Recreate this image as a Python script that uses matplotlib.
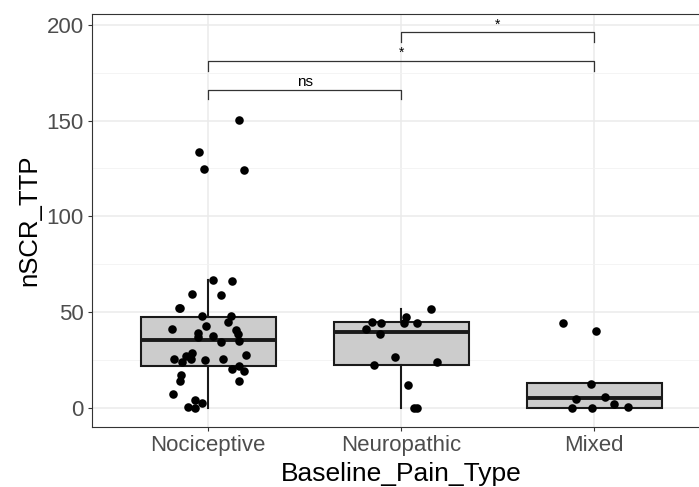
import numpy as np
import matplotlib
matplotlib.use("Agg")
import matplotlib.pyplot as plt

plt.rcParams['font.family'] = ['Liberation Sans', 'DejaVu Sans']

categories = ["Nociceptive", "Neuropathic", "Mixed"]

noci_vals = [150.4, 133.5, 124.7, 124.3, 67.0, 66.5, 59.7, 58.7, 51.9, 51.9,
             47.9, 47.8, 44.6, 42.5, 41.0, 40.5, 38.9, 38.4, 36.8, 37.3,
             34.9, 34.2, 28.5, 27.1, 25.7, 25.5, 24.2, 25.2, 25.5, 27.4,
             22.1, 20.3, 19.1, 17.4, 13.9, 13.9, 7.5, 4.0, 2.4, 0.7, 0.0]
noci_jit = [0.162, -0.045, -0.019, 0.184, 0.024, 0.122, -0.081, 0.069, -0.151, -0.143,
            -0.033, 0.119, 0.103, -0.010, -0.188, 0.145, -0.050, 0.155, -0.050, 0.026,
            0.159, 0.066, -0.083, -0.112, -0.091, -0.177, -0.136, -0.016, 0.079, 0.198,
            0.162, 0.122, 0.186, -0.141, -0.143, 0.159, -0.181, -0.069, -0.031, -0.105, -0.066]

neuro_vals = [51.8, 47.7, 44.3, 45.0, 44.5, 44.5, 41.0, 38.4, 26.4, 22.2, 24.2, 12.2, 0.0, 0.0]
neuro_jit = [0.157, 0.027, 0.017, -0.152, -0.102, 0.083, -0.181, -0.107, -0.033, -0.142,
             0.184, 0.038, 0.068, 0.080]

mixed_vals = [44.1, 40.1, 12.7, 4.9, 5.6, 2.1, 0.0, 0.0, 0.3]
mixed_jit = [-0.162, 0.010, -0.017, -0.093, 0.055, 0.102, -0.117, -0.009, 0.176]

# box statistics as drawn
box_q1 = [22.1, 22.6, 0.0]
box_med = [35.6, 39.6, 5.4]
box_q3 = [47.6, 44.6, 13.2]
box_lo = [0.0, 0.0, 0.0]
box_hi = [67.0, 51.6, 13.2]

# significance brackets: (group a, group b, height, label)
brackets = [(1, 2, 166, "ns"), (1, 3, 181, "*"), (2, 3, 196, "*")]

yticks = [0, 50, 100, 150, 200]

fig = plt.figure(figsize=(6.99, 4.87), dpi=100)
ax = fig.add_axes([0.132, 0.1238, 0.8837, 0.8475])

stats = []
for i in range(3):
    stats.append(dict(med=box_med[i], q1=box_q1[i], q3=box_q3[i],
                      whislo=box_lo[i], whishi=box_hi[i], fliers=[]))
ax.bxp(stats, positions=[1, 2, 3], widths=0.7, patch_artist=True, showcaps=False,
       boxprops=dict(facecolor='#CCCCCC', edgecolor='#1A1A1A', lw=1.5),
       medianprops=dict(color='#1A1A1A', lw=2.8),
       whiskerprops=dict(color='#1A1A1A', lw=1.5))

groups = [(noci_vals, noci_jit), (neuro_vals, neuro_jit), (mixed_vals, mixed_jit)]
for i, (vals, jit) in enumerate(groups):
    xs = np.array(jit) + i + 1
    ax.scatter(xs, vals, s=38, color='black', zorder=3, lw=0)

for a, b, h, lab in brackets:
    ax.plot([a, a, b, b], [h - 5, h, h, h - 5], color='#333333', lw=0.9)
    ax.text((a + b) / 2, h + 0.5, lab, ha='center', va='bottom', fontsize=11 if lab == "ns" else 10)

ax.set_xlim(0.4, 3.6)
ax.set_ylim(-9.8, 205.6)
ax.set_yticks(yticks)
ax.set_yticks([25, 75, 125, 175], minor=True)
ax.set_xticks([1, 2, 3])
ax.set_xticklabels(categories)
ax.grid(True, which='major', color='#EBEBEB', lw=1.1)
ax.grid(True, which='minor', axis='y', color='#F2F2F2', lw=0.6)
ax.set_axisbelow(True)
ax.tick_params(which='minor', length=0)
ax.tick_params(which='major', length=3, width=0.8, color='#333333',
               labelsize=16, labelcolor='#4D4D4D', pad=3)
for s in ax.spines.values():
    s.set_color('#333333')
    s.set_linewidth(0.8)

ax.set_xlabel("Baseline_Pain_Type", fontsize=19, labelpad=4)
ax.set_ylabel("nSCR_TTP", fontsize=18.5, labelpad=4)

fig.savefig("out.png", dpi=100)
